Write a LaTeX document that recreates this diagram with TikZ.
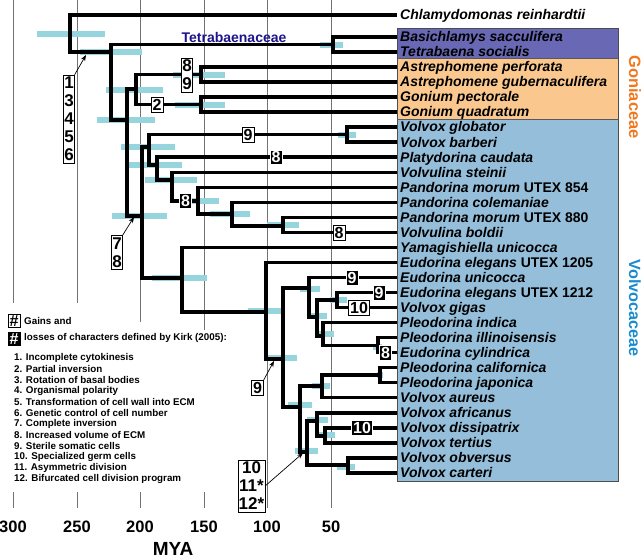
\documentclass[tikz,border=0pt]{standalone}
\usepackage{fontspec}
\setmainfont{Liberation Sans}
\usetikzlibrary{arrows.meta}
\definecolor{barcol}{RGB}{150,212,222}
\definecolor{tetraC}{RGB}{104,104,180}
\definecolor{gonC}{RGB}{250,200,142}
\definecolor{volC}{RGB}{148,190,218}
\definecolor{gonT}{RGB}{240,120,30}
\definecolor{volT}{RGB}{25,140,205}
\definecolor{navyT}{RGB}{30,20,140}
\begin{document}
\begin{tikzpicture}[x=1pt,y=-1pt,
  tree/.style={line width=3.5pt},
  gridln/.style={draw=black!55, line width=0.7pt},
  taxon/.style={anchor=base west, inner sep=0pt, font=\fontsize{14}{14}\selectfont\bfseries},
  wbox/.style={draw=black, line width=0.5pt, fill=white, inner xsep=1.6pt, inner ysep=1.7pt, font=\fontsize{16}{16}\selectfont\bfseries, text height=11.5pt, text depth=0pt},
  bbox/.style={wbox, fill=black, text=white, draw=white},
  stackbox/.style={draw=black, line width=0.5pt, fill=white, inner xsep=0.6pt, inner ysep=2pt, align=center, font=\fontsize{17}{18}\selectfont\bfseries},
  note/.style={-{Stealth[length=6pt,width=4.5pt]}, line width=0.7pt},
  legtxt/.style={anchor=west, inner sep=0pt, font=\fontsize{9.8}{11}\selectfont\bfseries},
  hashbox/.style={draw=black, line width=0.5pt, fill=white, inner xsep=1.5pt, inner ysep=1pt, font=\fontsize{16}{16}\selectfont\bfseries, text height=11.5pt, text depth=0pt},
  axlab/.style={font=\fontsize{16.5}{16.5}\selectfont\bfseries, inner sep=0pt}
]
\useasboundingbox (0,0) rectangle (642,558);
\fill[white] (0,0) rectangle (642,558);

% grid lines
\foreach \x/\yb in {13/303,77/303,140/322,204/330,267/508,331/508}
  \draw[gridln] (\x,0) -- (\x,\yb);
\foreach \x in {13,77,140,204}
  \draw[gridln] (\x,492) -- (\x,508);

% confidence bars
\foreach \a/\b/\y in {37/105/34, 80/142/52, 320/343/44.5, 106/163/90, 97/155/120,
  173/225/74.5, 175/225/105, 121/175/147, 128/182/165, 145/197/180, 180/219/201,
  210/250/214, 267/299/225, 112/167/216, 338/356/134.5, 152/207/278, 248/282/311,
  267/297/358, 300/320/289, 330/347/300, 307/327/316, 317/334/334, 373/382/347,
  377/383/375, 288/312/405, 312/330/386, 307/328/420, 317/335/435, 295/318/451, 337/355/467}
  \fill[barcol] (\a,\y-3) rectangle (\b,\y+3);

% clade boxes
\fill[tetraC] (397.5,28) rectangle (618,58.5);
\fill[gonC] (397.5,58.5) rectangle (618,119.5);
\fill[volC] (397.5,119.5) rectangle (618,481);
\draw[black!65, line width=0.5pt] (397.5,58.5) -- (618,58.5) (397.5,119.5) -- (618,119.5);
\draw[black!70, line width=0.7pt] (397.5,28) rectangle (618,481);

% node coordinates
\coordinate (nR0) at (70,33.5);
\coordinate (nA) at (111,52);
\coordinate (nTB) at (333,44.5);
\coordinate (nB) at (127,120);
\coordinate (nC) at (136,89);
\coordinate (nD) at (201,74.5);
\coordinate (nE) at (201,104.5);
\coordinate (nF) at (142,216);
\coordinate (nI) at (149,147);
\coordinate (nJ) at (347,134.5);
\coordinate (nK) at (157,165);
\coordinate (nL) at (172,180);
\coordinate (nM) at (198,201);
\coordinate (nN) at (232,214);
\coordinate (nO) at (283,226);
\coordinate (nG) at (182,278);
\coordinate (nH) at (266,312);
\coordinate (nP) at (283,359);
\coordinate (nR) at (309,288);
\coordinate (nS) at (317,317);
\coordinate (nT) at (337,300);
\coordinate (nU) at (323,336);
\coordinate (nV) at (378,345.5);
\coordinate (nQ) at (300,407);
\coordinate (nW) at (322,386);
\coordinate (nCC) at (380,375);
\coordinate (nY) at (307,452);
\coordinate (nZ) at (317,421);
\coordinate (nAA) at (325,436);
\coordinate (nBB) at (348,465);

% tips and taxon names
\coordinate (t0) at (397,15);
\node[taxon] (n0) at (400,19.8) {\textit{Chlamydomonas reinhardtii}};
\foreach \k/\nm in {
 1/{\textit{Basichlamys sacculifera}},
 2/{\textit{Tetrabaena socialis}},
 3/{\textit{Astrephomene perforata}},
 4/{\textit{Astrephomene gubernaculifera}},
 5/{\textit{Gonium pectorale}},
 6/{\textit{Gonium quadratum}},
 7/{\textit{Volvox globator}},
 8/{\textit{Volvox barberi}},
 9/{\textit{Platydorina caudata}},
 10/{\textit{Volvulina steinii}},
 11/{\textit{Pandorina morum} UTEX 854},
 12/{\textit{Pandorina colemaniae}},
 13/{\textit{Pandorina morum} UTEX 880},
 14/{\textit{Volvulina boldii}},
 15/{\textit{Yamagishiella unicocca}},
 16/{\textit{Eudorina elegans} UTEX 1205},
 17/{\textit{Eudorina unicocca}},
 18/{\textit{Eudorina elegans} UTEX 1212},
 19/{\textit{Volvox gigas}},
 20/{\textit{Pleodorina indica}},
 21/{\textit{Pleodorina illinoisensis}},
 22/{\textit{Eudorina cylindrica}},
 23/{\textit{Pleodorina californica}},
 24/{\textit{Pleodorina japonica}},
 25/{\textit{Volvox aureus}},
 26/{\textit{Volvox africanus}},
 27/{\textit{Volvox dissipatrix}},
 28/{\textit{Volvox tertius}},
 29/{\textit{Volvox obversus}},
 30/{\textit{Volvox carteri}}}{
  \coordinate (t\k) at (397,{37+15.03*(\k-1)});
  \node[taxon] (n\k) at (400,{37+15.03*(\k-1)+4.8}) {\nm};
}

% tree edges (child -| parent)
\foreach \c/\p in {t0/nR0, nA/nR0, nTB/nA, nB/nA, t1/nTB, t2/nTB,
  nC/nB, nF/nB, nD/nC, nE/nC, t3/nD, t4/nD, t5/nE, t6/nE,
  nI/nF, nG/nF, nJ/nI, nK/nI, t7/nJ, t8/nJ, t9/nK, nL/nK,
  t10/nL, nM/nL, t11/nM, nN/nM, t12/nN, nO/nN, t13/nO, t14/nO,
  t15/nG, nH/nG, t16/nH, nP/nH, nR/nP, nQ/nP, t17/nR, nS/nR,
  nT/nS, nU/nS, t18/nT, t19/nT, t20/nU, nV/nU, t21/nV, t22/nV,
  nW/nQ, nY/nQ, nCC/nW, t25/nW, t23/nCC, t24/nCC,
  nZ/nY, nBB/nY, t26/nZ, nAA/nZ, t27/nAA, t28/nAA, t29/nBB, t30/nBB}
  \draw[tree] (\c) -| (\p);

% character change labels on branches
\node[stackbox] (l89) at (187,75) {8\\9};
\node[wbox] (l2) at (157,105) {2};
\node[wbox] (l9a) at (248,134.5) {9};
\node[bbox] (l8a) at (276,157.2) {8};
\node[bbox] (l8b) at (185.5,201) {8};
\node[wbox] (l8c) at (339,232.3) {8};
\node[bbox] (l9b) at (352,277.5) {9};
\node[bbox] (l9c) at (379,292.5) {9};
\node[wbox] (l10a) at (359,307.6) {10};
\node[bbox] (l8d) at (385.5,353) {8};
\node[bbox] (l10b) at (362,427.8) {10};

% labels with arrows
\node[stackbox] (s1) at (69,119) {1\\3\\4\\5\\6};
\node[stackbox] (s2) at (117,252.5) {7\\8};
\node[wbox] (s3) at (257.5,387.5) {9};
\node[stackbox] (s4) at (251.5,486) {10\\11*\\12*};
\coordinate (a1) at (86,55);
\coordinate (a2) at (134,217);
\coordinate (a3) at (274,361);
\coordinate (a4) at (303,453);
\draw[note] (s1.north east) -- (a1);
\draw[note] (s2.north east) -- (a2);
\draw[note] (s3.north east) -- (a3);
\draw[note] (s4.east) -- (a4);

% group names
\node[font=\fontsize{14}{14}\selectfont\bfseries, text=navyT, inner sep=0pt] (gT) at (234,37) {Tetrabaenaceae};
\node[font=\fontsize{16.4}{16.4}\selectfont\bfseries, text=gonT, rotate=-90, inner sep=0pt] (gG) at (635,97) {Goniaceae};
\node[font=\fontsize{16.2}{16.2}\selectfont\bfseries, text=volT, rotate=-90, inner sep=0pt] (gV) at (635,308) {Volvocaceae};

% legend
\node[hashbox] (h1) at (14,320.5) {\#};
\node[hashbox, fill=black, text=white] (h2) at (14,338.5) {\#};
\node[legtxt] (g1) at (24,321) {Gains and};
\node[legtxt] (g2) at (24,338) {losses of characters defined by Kirk (2005):};
\foreach \k/\txt in {0/{1. Incomplete cytokinesis}, 1/{2. Partial inversion},
  2/{3. Rotation of basal bodies}, 3/{4. Organismal polarity},
  4/{5. Transformation of cell wall into ECM}, 5/{6. Genetic control of cell number},
  6/{7. Complete inversion}, 7/{8. Increased volume of ECM},
  8/{9. Sterile somatic cells}, 9/{10. Specialized germ cells},
  10/{11. Asymmetric division}, 11/{12. Bifurcated cell division program}}
  \node[legtxt] (it\k) at (14,{358.3+11*\k}) {\txt};

% axis
\foreach \x/\v in {13/300,77/250,140/200,204/150,267/100,331/50}
  \node[axlab] (ax\v) at (\x,527) {\v};
\node[font=\fontsize{19}{19}\selectfont\bfseries, inner sep=0pt] (mya) at (173,549) {MYA};
\end{tikzpicture}
\end{document}
